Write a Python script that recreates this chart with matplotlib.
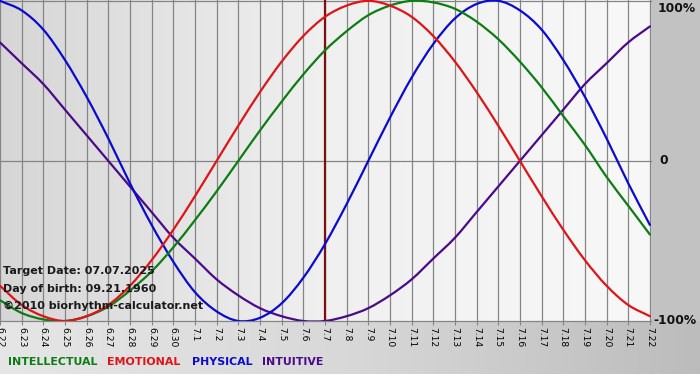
import numpy as np
import matplotlib
matplotlib.use("Agg")
import matplotlib.pyplot as plt
from matplotlib.colors import LinearSegmentedColormap
from matplotlib.path import Path
from matplotlib.patches import PathPatch
from matplotlib.transforms import blended_transform_factory

# ── data (day offset from target date, value in -1..1) ──
days = list(range(-15, 16))
day_labels = ["6.22", "6.23", "6.24", "6.25", "6.26", "6.27", "6.28", "6.29",
              "6.30", "7.1", "7.2", "7.3", "7.4", "7.5", "7.6", "7.7", "7.8",
              "7.9", "7.10", "7.11", "7.12", "7.13", "7.14", "7.15", "7.16",
              "7.17", "7.18", "7.19", "7.20", "7.21", "7.22"]

physical = [1.00, 0.94, 0.82, 0.63, 0.40, 0.14, -0.14, -0.40, -0.63, -0.82,
            -0.94, -1.00, -0.98, -0.89, -0.73, -0.52, -0.27, 0.00, 0.27, 0.52,
            0.73, 0.89, 0.98, 1.00, 0.94, 0.82, 0.63, 0.40, 0.14, -0.14, -0.40]
emotional = [-0.78, -0.90, -0.97, -1.00, -0.97, -0.90, -0.78, -0.62, -0.43,
             -0.22, 0.00, 0.22, 0.43, 0.62, 0.78, 0.90, 0.97, 1.00, 0.97, 0.90,
             0.78, 0.62, 0.43, 0.22, 0.00, -0.22, -0.43, -0.62, -0.78, -0.90,
             -0.97]
intellectual = [-0.87, -0.95, -0.99, -1.00, -0.97, -0.91, -0.81, -0.69, -0.54,
                -0.37, -0.19, 0.00, 0.19, 0.37, 0.54, 0.69, 0.81, 0.91, 0.97,
                1.00, 0.99, 0.95, 0.87, 0.76, 0.62, 0.46, 0.28, 0.10, -0.10,
                -0.28, -0.46]
intuitive = [0.74, 0.61, 0.48, 0.32, 0.16, 0.00, -0.16, -0.32, -0.48, -0.61,
             -0.74, -0.84, -0.92, -0.97, -1.00, -1.00, -0.97, -0.92, -0.84,
             -0.74, -0.61, -0.48, -0.32, -0.16, 0.00, 0.16, 0.32, 0.48, 0.61,
             0.74, 0.84]

target_day = 0
y_ticks = [1, 0, -1]
y_labels = ["100%", "0", "-100%"]
info_lines = ["Target Date: 07.07.2025", "Day of birth: 09.21.1960",
              "©2010 biorhythm-calculator.net"]
legend_names = ["INTELLECTUAL", "EMOTIONAL", "PHYSICAL", "INTUITIVE"]

C_INT = "#0b7d12"
C_EMO = "#e01418"
C_PHY = "#0a0ad0"
C_ITU = "#4a0a8a"
C_GRID = "#858585"


def smooth_line(ax, xs, ys, color, lw=1.6):
    """Catmull-Rom curve through the read points, drawn as a cubic Bezier path."""
    p = np.column_stack([xs, ys]).astype(float)
    p = np.vstack([2 * p[0] - p[1], p, 2 * p[-1] - p[-2]])
    verts = [tuple(p[1])]
    codes = [Path.MOVETO]
    for i in range(1, len(p) - 2):
        c1 = p[i] + (p[i + 1] - p[i - 1]) / 6
        c2 = p[i + 1] - (p[i + 2] - p[i]) / 6
        verts += [tuple(c1), tuple(c2), tuple(p[i + 1])]
        codes += [Path.CURVE4] * 3
    ax.add_patch(PathPatch(Path(verts, codes), fill=False, edgecolor=color,
                           lw=lw, zorder=3, capstyle="round"))


W, H = 700, 380
fig = plt.figure(figsize=(W / 100, H / 100), dpi=100)

# ── background: grey right margin, gradient strip under the plot ──────────
bg = fig.add_axes([0, 0, 1, 1], zorder=-5)
bg.set_xlim(0, W)
bg.set_ylim(H, 0)
bg.axis("off")
bg.add_patch(plt.Rectangle((0, 0), W, H, color="white", lw=0))
bg.add_patch(plt.Rectangle((650, 0), 50, 322, color="#c2c2c2", lw=0))
strip = LinearSegmentedColormap.from_list("strip", ["#e6e6e6", "#d8d8d8", "#bcbcbc"])
bg.imshow(np.linspace(0, 1, 256)[None, :], cmap=strip, aspect="auto",
          extent=(0, W, 374, 321), zorder=1)

# ── plot area ─────────────────────────────────────────────────────────────
ax = fig.add_axes([0, 1 - 321 / H, 651 / W, 321 / H])
ax.set_facecolor("none")
x0, x1 = days[0], days[-1] + 0.05
ax.set_xlim(x0, x1)
ax.set_ylim(-1.0, 1.005)
panel = LinearSegmentedColormap.from_list("panel", ["#d6d6d6", "#f0f0f0", "#f8f8f8"])
ax.imshow(np.linspace(0, 1, 256)[None, :], cmap=panel, aspect="auto",
          extent=(x0, x1, -1.0, 1.005), zorder=0)

for d in days:
    ax.axvline(d, color=C_GRID, lw=0.9, zorder=1)
for yv in y_ticks:
    ax.axhline(yv, color=C_GRID, lw=0.9, zorder=1, clip_on=False)

ax.axvline(target_day, color="#7a1010", lw=1.6, zorder=2)

smooth_line(ax, days, intuitive, C_ITU)
smooth_line(ax, days, physical, C_PHY)
smooth_line(ax, days, intellectual, C_INT)
smooth_line(ax, days, emotional, C_EMO)

for sp in ax.spines.values():
    sp.set_visible(False)

ax.set_xticks(days)
ax.set_xticklabels(day_labels, rotation=-90, fontsize=6.6, ha="center", va="top")
ax.tick_params(axis="x", length=3, color=C_GRID, pad=1.5)
ax.set_yticks([])

# percentage labels in the right margin
tr = blended_transform_factory(ax.transAxes, ax.transData)
y_nudge = [-0.045, 0.0, 0.0]
x_start = [658, 659, 653]
for yv, lab, dy, xs in zip(y_ticks, y_labels, y_nudge, x_start):
    ax.text(xs / 651, yv + dy, lab, transform=tr, fontsize=8.8,
            fontweight="bold", color="#111111", ha="left", va="center",
            clip_on=False)

for i, line in enumerate(info_lines):
    fig.text(3 / W, 1 - (271 + i * 17.5) / H, line, fontsize=8.0,
             fontweight="bold", color="#1a1a1a", va="center", ha="left")

leg_x = [8, 107, 192, 262]
for name, xp, col in zip(legend_names, leg_x, [C_INT, C_EMO, C_PHY, C_ITU]):
    fig.text(xp / W, 1 - 362 / H, name, fontsize=7.9, fontweight="bold",
             color=col, va="center", ha="left")

fig.savefig("out.png", dpi=100)
